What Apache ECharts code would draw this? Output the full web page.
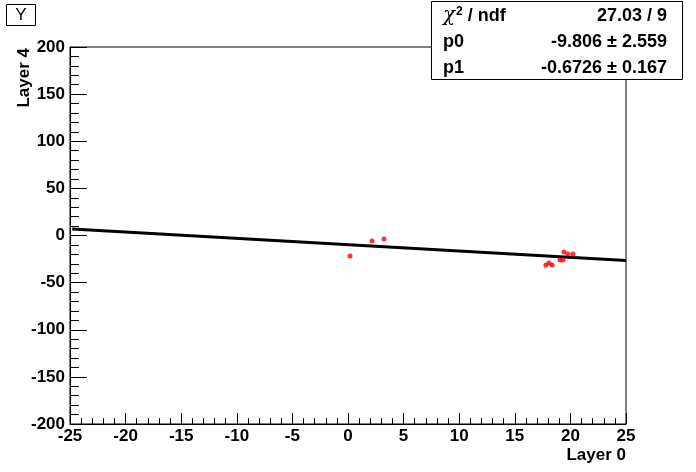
<!DOCTYPE html>
<html>
<head>
<meta charset="utf-8">
<script src="https://cdn.jsdelivr.net/npm/echarts@6/dist/echarts.min.js"></script>
<style>
html,body{margin:0;padding:0;background:#fff;}
#chart{width:696px;height:472px;}
</style>
</head>
<body>
<div id="chart"></div>
<script>
// Data
const pointsX = [0.18, 2.16, 3.24, 19.42, 19.78, 20.23, 19.06, 19.33, 17.8, 18.08, 18.35];
const pointsY = [-21.8, -5.8, -3.7, -17.5, -19.6, -19.6, -26.0, -26.0, -31.3, -29.2, -31.3];
const fitX = [-24.8, 25];
const fitY = [6.9, -26.6];
const statNames = ['{chi|χ}{sup|2}{b| / ndf}', '{b|p0}', '{b|p1}'];
const statValues = ['27.03 / 9', '-9.806 ± 2.559', '-0.6726 ± 0.167'];
const xTitle = 'Layer 0';
const yTitle = 'Layer 4';
const histTitle = 'Y';

const FONT = '"Liberation Sans", Arial, Helvetica, sans-serif';
const chart = echarts.init(document.getElementById('chart'), null, {renderer: 'canvas'});

const pts = pointsX.map((x, i) => [x, pointsY[i]]);
const fit = fitX.map((x, i) => [x, fitY[i]]);

const rich = {
  chi: {fontFamily: '"DejaVu Serif", serif', fontSize: 20, fontStyle: 'italic', fill: '#000', color: '#000'},
  sup: {fontFamily: FONT, fontSize: 12, fontWeight: 'bold', verticalAlign: 'top', padding: [0, 0, 9, 1], color: '#000'},
  b: {fontFamily: FONT, fontSize: 18, fontWeight: 'bold', color: '#000'}
};

const statGraphics = [];
statGraphics.push({type: 'rect', shape: {x: 431.5, y: 1.5, width: 251, height: 78}, style: {fill: '#fff', stroke: '#000', lineWidth: 1}, z: 100});
const rowY = [16, 42, 68];
statNames.forEach((n, i) => {
  statGraphics.push({type: 'text', x: 443, y: rowY[i], style: {text: n, rich: rich, font: 'bold 18px ' + FONT, fill: '#000', textAlign: 'left', textVerticalAlign: 'middle'}, z: 101});
  statGraphics.push({type: 'text', x: 667, y: rowY[i], style: {text: statValues[i], font: 'bold 18px ' + FONT, fill: '#000', textAlign: 'right', textVerticalAlign: 'middle'}, z: 101});
});

const option = {
  backgroundColor: '#fff',
  animation: false,
  grid: {left: 70, top: 47, width: 556, height: 377, show: true, borderColor: '#000', borderWidth: 1, backgroundColor: 'transparent'},
  xAxis: {
    type: 'value', min: -25, max: 25, interval: 5,
    axisLine: {onZero: false, lineStyle: {color: '#000', width: 1}},
    axisTick: {inside: true, length: 11, lineStyle: {color: '#000'}},
    minorTick: {show: true, splitNumber: 5, length: 6, lineStyle: {color: '#000'}},
    splitLine: {show: false},
    axisLabel: {color: '#000', fontSize: 17, fontWeight: 'bold', fontFamily: FONT, margin: 4}
  },
  yAxis: {
    type: 'value', min: -200, max: 200, interval: 50,
    axisLine: {onZero: false, lineStyle: {color: '#000', width: 1}},
    axisTick: {inside: true, length: 17, lineStyle: {color: '#000'}},
    minorTick: {show: true, splitNumber: 5, length: 9, lineStyle: {color: '#000'}},
    splitLine: {show: false},
    axisLabel: {color: '#000', fontSize: 17, fontWeight: 'bold', fontFamily: FONT, margin: 5}
  },
  series: [
    {type: 'line', data: fit, showSymbol: false, symbol: 'none', lineStyle: {color: '#000', width: 3}, z: 2},
    {type: 'scatter', data: pts, symbol: 'circle', symbolSize: 5, itemStyle: {color: '#ff0000'}, z: 3}
  ],
  graphic: [
    {type: 'rect', shape: {x: 6.5, y: 4.5, width: 29, height: 21}, style: {fill: '#fff', stroke: '#000', lineWidth: 1}, z: 100},
    {type: 'text', x: 21, y: 15.5, style: {text: histTitle, font: '17px ' + FONT, fill: '#000', textAlign: 'center', textVerticalAlign: 'middle'}, z: 101},
    {type: 'text', x: 626, y: 455, style: {text: xTitle, font: 'bold 17px ' + FONT, fill: '#000', textAlign: 'right', textVerticalAlign: 'middle'}, z: 101},
    {type: 'text', x: 24, y: 48, rotation: Math.PI / 2, style: {text: yTitle, font: 'bold 17px ' + FONT, fill: '#000', textAlign: 'right', textVerticalAlign: 'middle'}, z: 101}
  ].concat(statGraphics)
};
chart.setOption(option);
</script>
</body>
</html>
